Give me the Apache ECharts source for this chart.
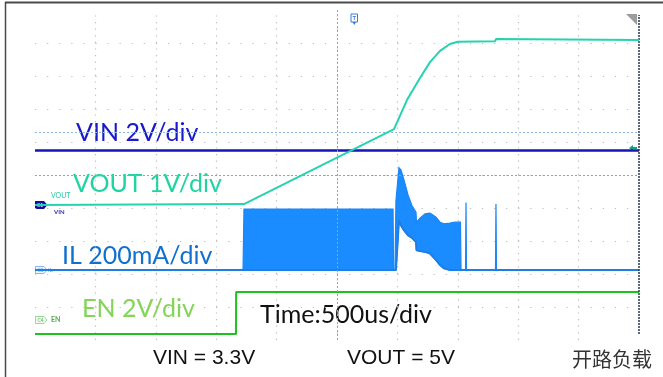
<!DOCTYPE html>
<html>
<head>
<meta charset="utf-8">
<script src="https://cdn.jsdelivr.net/npm/echarts@6/dist/echarts.min.js"></script>
<style>html,body{margin:0;padding:0;background:#fff;}#c{width:663px;height:377px;}</style>
</head>
<body>
<div id="c"></div>
<script>
// ---- time base (µs), 500 us/div, trigger at centre ----
const X_TICKS = [-2500, -2000, -1500, -1000, -500, 0, 500, 1000, 1500, 2000, 2500];

// ---- VIN (V) ----
const VIN_T = [-2500, 2500];
const VIN_V = [3.3, 3.3];

// ---- VOUT (V) ----
const VOUT_T = [-2500, -770, 472, 579, 687, 770, 853, 935, 1002, 1308, 1316, 2500];
const VOUT_V = [0, 0.03, 2.30, 3.18, 3.85, 4.33, 4.67, 4.88, 4.95, 4.96, 5.03, 5.00];

// ---- IL (A): upper and lower envelope of the switching current ----
const IL_T  = [-2500, -778, -770, 464, 468, 480, 488, 513, 530, 555, 588, 621, 654, 658, 687, 729, 770, 820, 853, 886, 935, 977, 1022, 1027, 1064, 1068, 1072, 1312, 1316, 1320, 2500];
const IL_HI = [0, 0, 0.37, 0.37, 0, 0, 0.42, 0.62, 0.606, 0.545, 0.455, 0.39, 0.35, 0.29, 0.315, 0.34, 0.345, 0.32, 0.29, 0.28, 0.285, 0.29, 0.29, 0, 0, 0.41, 0, 0, 0.40, 0, 0];
const IL_LO = [0, 0, 0, 0, 0, 0, 0, 0.30, 0.27, 0.24, 0.21, 0.195, 0.17, 0.12, 0.115, 0.11, 0.10, 0.06, 0.03, 0.01, 0, 0, 0, 0, 0, 0, 0, 0, 0, 0, 0];

// ---- EN (V) ----
const EN_T = [-2500, -836, -835, 2500];
const EN_V = [0, 0, 2.55, 2.55];

// ---- scope channel settings: ground level (div from bottom) and units/div ----
const DIVS = 10;
const CH = {
  vout: { ground: 4.09, perDiv: 1 },
  vin:  { ground: 4.09, perDiv: 2 },
  il:   { ground: 2.12, perDiv: 0.2 },
  en:   { ground: 0.18, perDiv: 2 }
};
const CURSOR_DIV = 6.30;      // blue dashed cursor
const BORDER_DIV = [0.18, 9.85];

function chAxis(c) {
  return { type: 'value', min: -c.ground * c.perDiv, max: (DIVS - c.ground) * c.perDiv, show: false };
}
const zip = (a, b) => a.map((v, i) => [v, b[i]]);

const chart = echarts.init(document.getElementById('c'), null, { renderer: 'canvas' });
const dotColor = '#bdbdbd';

chart.setOption({
  animation: false,
  grid: { left: 35, right: 24, top: 10, bottom: 37 },
  xAxis: {
    type: 'value', min: X_TICKS[0], max: X_TICKS[X_TICKS.length - 1], interval: 500,
    axisLine: { show: false }, axisTick: { show: false }, axisLabel: { show: false },
    splitLine: { show: true, showMinLine: false, showMaxLine: false,
      lineStyle: { color: dotColor, width: 1.2, type: [1.2, 5.4], dashOffset: 1.2 } }
  },
  yAxis: [
    { type: 'value', min: 0, max: DIVS, interval: 1,
      axisLine: { show: false }, axisTick: { show: false }, axisLabel: { show: false },
      splitLine: { show: true, showMinLine: false, showMaxLine: false,
        lineStyle: { color: dotColor, width: 1.2, type: [1.2, 10.88] } } },
    chAxis(CH.vout), chAxis(CH.vin), chAxis(CH.il), chAxis(CH.en)
  ],
  series: [
    { type: 'line', name: 'grid', yAxisIndex: 0, data: [[0, 5]], symbol: 'none', silent: true,
      lineStyle: { opacity: 0 },
      markLine: { silent: true, symbol: 'none', label: { show: false },
        data: [
          { xAxis: 0, lineStyle: { color: '#a0a0a0', type: [2, 2], width: 1 } },
          { yAxis: 5, lineStyle: { color: '#a0a0a0', type: [2, 2], width: 1 } },
          { yAxis: CURSOR_DIV, lineStyle: { color: '#8cb8ee', type: [2, 2], width: 1 } },
          [ { coord: [X_TICKS[X_TICKS.length - 1], BORDER_DIV[0]], lineStyle: { color: '#2a3550', type: [2, 1], width: 1.5 } },
            { coord: [X_TICKS[X_TICKS.length - 1], BORDER_DIV[1]] } ]
        ] } },
    { type: 'line', name: 'EN', yAxisIndex: 4, data: zip(EN_T, EN_V), symbol: 'none',
      lineStyle: { color: '#1ec21e', width: 2 }, z: 2 },
    { type: 'custom', name: 'IL_band', yAxisIndex: 3, data: [[IL_T[0], 0]], z: 3, silent: true,
      renderItem: function (params, api) {
        const pts = [];
        for (let i = 0; i < IL_T.length; i++) pts.push(api.coord([IL_T[i], IL_HI[i]]));
        for (let i = IL_T.length - 1; i >= 0; i--) pts.push(api.coord([IL_T[i], IL_LO[i]]));
        return { type: 'polygon', shape: { points: pts },
          style: { fill: '#1a8cff', stroke: '#1a86f5', lineWidth: 1.2 } };
      } },
    { type: 'line', name: 'IL', yAxisIndex: 3, data: zip(IL_T, IL_LO), symbol: 'none',
      lineStyle: { color: '#1c7ee6', width: 2 }, z: 3 },
    { type: 'line', name: 'VIN', yAxisIndex: 2, data: zip(VIN_T, VIN_V), symbol: 'none',
      lineStyle: { color: '#1515b8', width: 2.5 }, z: 4 },
    { type: 'line', name: 'VOUT', yAxisIndex: 1, data: zip(VOUT_T, VOUT_V), symbol: 'none',
      lineStyle: { color: '#25d3b0', width: 2 }, z: 5 }
  ],
  graphic: [
    // frame
    { type: 'line', shape: { x1: 5, y1: 2.5, x2: 663, y2: 2.5 }, style: { stroke: '#4a4a4a', lineWidth: 2 } },
    { type: 'line', shape: { x1: 5.5, y1: 2, x2: 5.5, y2: 377 }, style: { stroke: '#4a4a4a', lineWidth: 1.5 } },
    // trigger marker
    { type: 'rect', shape: { x: 351, y: 14, width: 6.5, height: 8 }, style: { fill: '#fff', stroke: '#3a7ad8', lineWidth: 1 } },
    { type: 'text', x: 354.3, y: 18, style: { text: 'T', font: 'bold 6px Lato', fill: '#3a7ad8', align: 'center', verticalAlign: 'middle' } },
    { type: 'polygon', shape: { points: [[352.5, 22], [356, 22], [354.3, 25]] }, style: { fill: '#3a7ad8' } },
    // top-right corner flag
    { type: 'polygon', shape: { points: [[626, 14], [637, 14], [637, 25]] }, style: { fill: '#9c9c9c' } },
    // VIN level arrow at right
    { type: 'polygon', shape: { points: [[629, 148], [633, 145], [633, 147], [637, 147], [637, 149], [633, 149], [633, 151]] }, style: { fill: '#1d9f86' } },
    // channel markers
    { type: 'polygon', shape: { points: [[35, 201], [44, 201], [47.5, 205], [44, 209], [35, 209]] }, style: { fill: '#10109a' } },
    { type: 'text', x: 40, y: 205, style: { text: 'C1', font: '5px Lato', fill: '#fff', align: 'center', verticalAlign: 'middle' } },
    { type: 'polygon', shape: { points: [[35.5, 266.5], [44, 266.5], [47, 270], [44, 273.5], [35.5, 273.5]] }, style: { fill: '#f2f7fd', stroke: '#8ab4e8', lineWidth: 1 } },
    { type: 'text', x: 40.5, y: 270, style: { text: 'C5', font: '5px Lato', fill: '#6a9ad8', align: 'center', verticalAlign: 'middle' } },
    { type: 'polygon', shape: { points: [[35.5, 316.5], [44, 316.5], [47, 320], [44, 323.5], [35.5, 323.5]] }, style: { fill: '#f2fbf2', stroke: '#9ad89a', lineWidth: 1 } },
    { type: 'text', x: 40.5, y: 320, style: { text: 'C4', font: '5px Lato', fill: '#5fb05f', align: 'center', verticalAlign: 'middle' } },
    // small channel names
    { type: 'text', x: 51, y: 196, style: { text: 'VOUT', font: '7px Lato', fill: '#25c9a6', verticalAlign: 'middle' } },
    { type: 'text', x: 54, y: 212, style: { text: 'VIN', font: 'bold 6px Lato', fill: '#3030b0', verticalAlign: 'middle' } },
    { type: 'text', x: 48, y: 270, style: { text: 'IL', font: '6px Lato', fill: '#6a9ad8', verticalAlign: 'middle' } },
    { type: 'text', x: 51, y: 320, style: { text: 'EN', font: 'bold 7px Lato', fill: '#4fae4f', verticalAlign: 'middle' } },
    // big channel labels
    { type: 'text', x: 76, y: 133, style: { text: 'VIN 2V/div', font: '25px Lato', fill: '#1a1acc', verticalAlign: 'middle' } },
    { type: 'text', x: 73, y: 184, style: { text: 'VOUT 1V/div', font: '25px Lato', fill: '#1fd4a0', verticalAlign: 'middle' } },
    { type: 'text', x: 62, y: 256, style: { text: 'IL 200mA/div', font: '25px Lato', fill: '#1070d0', verticalAlign: 'middle' } },
    { type: 'text', x: 82, y: 309, style: { text: 'EN 2V/div', font: '25px Lato', fill: '#85d45a', verticalAlign: 'middle' } },
    { type: 'text', x: 260, y: 315, style: { text: 'Time:500us/div', font: '25px Lato', fill: '#111', verticalAlign: 'middle' } },
    // footer
    { type: 'text', x: 153, y: 358, style: { text: 'VIN = 3.3V', font: '21px "Liberation Sans"', fill: '#111', verticalAlign: 'middle' } },
    { type: 'text', x: 347, y: 358, style: { text: 'VOUT = 5V', font: '21px "Liberation Sans"', fill: '#111', verticalAlign: 'middle' } },
    { type: 'text', x: 572, y: 359, style: { text: '开路负载', font: '20px "Noto Sans CJK SC"', fill: '#333', verticalAlign: 'middle' } }
  ]
});
</script>
</body>
</html>
